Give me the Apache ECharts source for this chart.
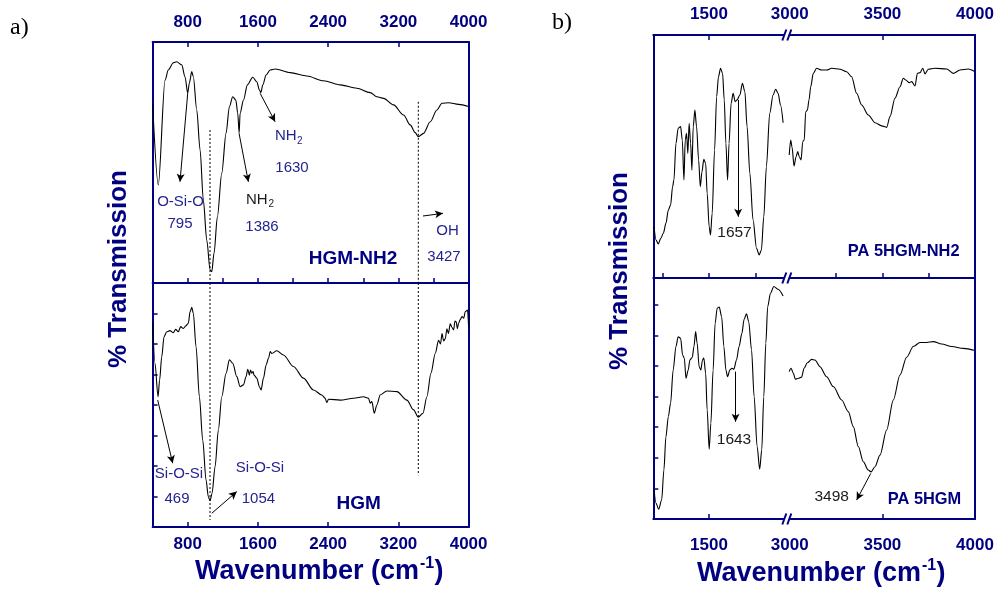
<!DOCTYPE html>
<html>
<head>
<meta charset="utf-8">
<script src="https://cdn.jsdelivr.net/npm/echarts@6/dist/echarts.min.js"></script>
<style>
html, body { margin: 0; padding: 0; background: #fff; }
#chart { width: 998px; height: 590px; }
</style>
</head>
<body>
<div id="chart"></div>
<script>
// FTIR spectra: (a) HGM-NH2 and HGM, (b) PA 5HGM-NH2 and PA 5HGM (broken wavenumber axis)

// ---- panel a: HGM-NH2 (upper) ----
const hgmNh2Wn = [401,465,542,579,636,675,732,769,800,819,846,864,903,941,978,1017,1055,1074,1100,1138,
  1188,1237,1275,1313,1348,1370,1386,1397,1435,1480,1541,1587,1617,1633,1656,1693,1739,1796,1967,2157,
  2347,2537,2727,2879,2955,3031,3145,3259,3335,3392,3427,3487,3563,3639,3697,3772,3886,4000];
const hgmNh2T = [73.9,40.7,84.2,88.4,91.4,91.8,90.5,85.6,78.8,83.0,87.7,85.6,71.8,55.2,34.4,17.8,5.4,4.7,12.4,27.5,
  45.6,62.2,73.2,77.3,75.9,70.5,62.2,70.5,75.9,82.2,85.4,83.5,80.1,79.0,82.2,86.3,88.4,88.8,87.3,85.9,
  83.9,82.2,80.8,79.0,77.3,76.6,73.9,69.7,65.6,62.4,60.7,62.1,66.9,71.8,74.6,74.8,74.1,73.2];

// ---- panel a: HGM (lower) ----
const hgmWn = [401,427,462,480,504,530,561,598,636,663,693,720,750,777,807,827,846,864,895,933,
  971,1009,1035,1055,1077,1112,1149,1188,1237,1275,1313,1359,1397,1435,1465,1484,1503,1515,1530,1545,
  1556,1587,1617,1636,1663,1693,1720,1740,1758,1815,1891,2005,2119,2233,2328,2366,2385,2404,2537,2689,
  2803,2860,2879,2898,2925,2955,2993,3069,3183,3297,3373,3427,3480,3525,3571,3620,3658,3680,3697,3715,
  3734,3753,3770,3791,3810,3829,3845,3859,3872,3886,3905,3925,3945,3962,3988,4000];
const hgmT = [66.8,53.7,42.7,48.2,55.8,62.4,64.0,64.4,63.7,64.8,64.0,65.7,65.1,65.9,66.8,70.6,72.0,70.1,59.1,42.7,
  28.5,15.4,9.9,8.6,11.0,19.8,31.8,42.7,50.4,54.8,53.7,49.3,46.0,46.6,49.3,51.7,49.8,51.5,50.4,51.0,
  49.8,48.8,46.0,44.9,48.8,53.1,55.3,57.5,56.9,57.8,56.4,52.6,48.8,44.9,43.3,42.2,40.8,41.9,41.6,42.2,
  42.7,42.2,40.6,41.1,37.3,40.0,43.3,44.6,44.4,41.6,38.4,36.0,37.3,42.7,50.4,56.9,61.2,60.0,63.4,61.0,
  61.7,65.0,63.5,66.6,65.5,64.6,67.5,67.3,65.0,66.8,68.0,69.0,68.5,70.6,71.1,65.7];

// ---- panel b: PA 5HGM-NH2 (upper), low and high wavenumber segments ----
const paNh2LowWn = [1204,1215,1227,1240,1254,1268,1281,1293,1304,1311,1322,1334,1347,1356,1365,1372,1379,1386,1393,1401,
  1408,1415,1424,1433,1444,1453,1462,1472,1482,1490,1501,1508,1517,1530,1541,1551,1562,1573,1582,1591,
  1600,1608,1619,1630,1641,1651,1666,1680,1693,1705,1720,1737,1756,1770,1782,1795,1809,1827,1845,1859,
  1872,1885,1899];
const paNh2LowT = [21.1,15.6,14.0,16.3,18.4,22.5,28.0,30.0,37.6,40.3,55.4,61.6,62.3,56.8,40.3,56.8,59.5,51.3,63.7,55.4,
  44.4,62.3,69.1,62.3,48.6,37.6,43.7,48.8,47.2,34.9,21.1,17.7,26.6,52.7,74.6,82.8,86.3,84.2,73.3,55.4,
  40.3,55.4,71.9,76.0,72.6,73.3,75.3,80.1,76.7,62.3,43.1,23.9,12.2,9.5,11.5,25.2,45.8,67.8,75.3,77.7,
  76.0,71.2,63.9];
const paNh2HighWn = [2997,3005,3012,3023,3034,3043,3051,3061,3070,3078,3086,3095,3104,3113,3127,3145,3172,3199,3226,3271,
  3307,3334,3361,3388,3424,3460,3496,3523,3541,3568,3595,3613,3626,3645,3658,3676,3689,3703,3718,3730,
  3748,3784,3847,3883,3919,3964,4000];
const paNh2HighT = [50.6,56.8,54.0,46.1,49.9,52.0,49.9,48.6,56.1,56.8,68.4,69.1,73.3,78.7,84.2,86.3,85.6,85.6,86.3,85.9,
  84.9,82.8,76.0,71.2,67.1,63.9,62.6,62.0,66.4,74.0,78.7,82.2,81.5,80.4,80.8,79.0,84.2,84.5,86.3,84.0,
  85.9,86.3,86.0,84.2,85.6,86.0,84.9];

// ---- panel b: PA 5HGM (lower), low and high wavenumber segments ----
const paLowWn = [1204,1215,1229,1245,1257,1268,1281,1293,1307,1322,1334,1347,1358,1367,1376,1388,1397,1410,1419,1428,
  1436,1447,1456,1465,1472,1482,1490,1501,1510,1522,1533,1544,1555,1568,1580,1591,1600,1612,1623,1634,
  1648,1662,1677,1689,1702,1714,1729,1743,1759,1773,1784,1795,1806,1816,1831,1849,1872,1899];
const paLowT = [9.5,5.1,3.2,6.2,16.0,26.9,33.5,37.8,48.7,56.4,59.6,59.1,53.6,52.6,46.0,48.7,52.0,52.9,56.4,61.3,
  57.5,49.8,48.7,52.0,52.6,47.7,35.7,22.8,31.3,48.7,64.0,68.9,69.3,66.2,56.4,48.7,46.5,48.7,49.3,49.0,
  52.0,56.4,60.7,65.3,67.1,64.5,55.3,40.0,23.7,16.3,22.6,40.0,57.5,69.4,73.8,76.0,75.1,72.9];
const paHighWn = [2997,3007,3019,3030,3046,3064,3077,3095,3118,3136,3163,3199,3235,3280,3316,3343,3370,3397,3424,3439,
  3460,3487,3523,3559,3595,3631,3667,3703,3739,3775,3820,3874,3937,4000];
const paHighT = [48.2,49.3,47.7,45.7,46.0,46.4,49.3,51.1,52.2,52.0,49.8,46.5,43.3,38.9,35.1,30.2,23.7,18.7,16.0,15.4,
  17.1,20.9,29.1,38.9,47.1,52.9,56.4,57.7,57.7,58.0,57.2,56.4,55.8,55.1];

// ---- tick positions and labels ----
const aMajorTicks = [800, 1600, 2400, 3200];
const aMinorTicks = [800, 1200, 1600, 2000, 2400, 2800, 3200, 3600];
const aTickLabels = [800, 1600, 2400, 3200, 4000];
const bLowTickLabels = [1500];
const bLowMinorTicks = [1250, 1500, 1750];
const bHighTickLabels = [3000, 3500, 4000];
const bHighMinorTicks = [3250, 3500, 3750];
const yTicks = [10, 20, 30, 40, 50, 60, 70];

const NAVY = '#000080';
const BLUE = '#24248f';
const INK = '#1a1a1a';
const SANS = '"Liberation Sans", Arial, Helvetica, sans-serif';
const SERIF = '"Liberation Serif", "Times New Roman", serif';

// grid boxes: left, top, width, height
const boxes = [
  [152.6, 42, 316, 241],   // 0 a upper
  [152.6, 283, 316, 244],  // 1 a lower
  [653.3, 35, 133.7, 243], // 2 b upper, low segment
  [787, 35, 188, 243],     // 3 b upper, high segment
  [653.3, 278, 133.7, 241],// 4 b lower, low segment
  [787, 278, 188, 241]     // 5 b lower, high segment
];
const BREAK_X = 786.8;

function xAx(gi, position, min, max, o) {
  return {
    type: 'value', gridIndex: gi, position, min, max,
    axisLine: { show: true, onZero: false, lineStyle: { color: NAVY, width: 2 } },
    axisTick: { show: !!o.ticks, inside: true, length: 5, customValues: o.ticks,
      lineStyle: { color: NAVY, width: 1.5 } },
    axisLabel: { show: !!o.labels, customValues: o.labels, margin: o.margin || 8,
      formatter: v => String(v),
      color: NAVY, fontWeight: 'bold', fontSize: 17, fontFamily: SANS,
      showMinLabel: true, showMaxLabel: true },
    splitLine: { show: false }
  };
}
function yAx(gi, position, max, o) {
  return {
    type: 'value', gridIndex: gi, position, min: 0, max,
    axisLine: { show: o.line !== false, onZero: false, lineStyle: { color: NAVY, width: 2 } },
    axisTick: { show: !!o.ticks, inside: true, length: 5, customValues: o.ticks,
      lineStyle: { color: NAVY, width: 1.5 } },
    axisLabel: { show: false },
    splitLine: { show: false }
  };
}

const xAxes = [
  xAx(0, 'top', 400, 4000, { ticks: aMajorTicks, labels: aTickLabels, margin: 11 }),   // 0
  xAx(0, 'bottom', 400, 4000, { ticks: aMinorTicks }),                                 // 1
  xAx(1, 'bottom', 400, 4000, { ticks: aMajorTicks, labels: aTickLabels, margin: 9 }), // 2
  xAx(2, 'top', 1200, 1920, { ticks: [1500], labels: bLowTickLabels, margin: 12 }),    // 3
  xAx(2, 'bottom', 1200, 1920, { ticks: bLowMinorTicks }),                             // 4
  xAx(3, 'top', 2985, 4000, { ticks: [3500], labels: bHighTickLabels, margin: 12 }),   // 5
  xAx(3, 'bottom', 2985, 4000, { ticks: bHighMinorTicks }),                            // 6
  xAx(4, 'bottom', 1200, 1920, { ticks: [1500], labels: bLowTickLabels, margin: 18 }), // 7
  xAx(5, 'bottom', 2985, 4000, { ticks: [3500], labels: bHighTickLabels, margin: 18 }) // 8
];
const yAxes = [
  yAx(0, 'left', 100, {}),                 // 0
  yAx(0, 'right', 100, {}),                // 1
  yAx(1, 'left', 80, { ticks: yTicks }),   // 2
  yAx(1, 'right', 80, {}),                 // 3
  yAx(2, 'left', 100, {}),                 // 4
  yAx(3, 'right', 100, {}),                // 5
  yAx(4, 'left', 78.8, { ticks: yTicks }), // 6
  yAx(5, 'right', 78.8, {})                // 7
];

function arrows(pairs) {
  return {
    silent: true, symbol: ['none', 'arrow'], symbolSize: [6, 8],
    label: { show: false },
    lineStyle: { color: '#000', width: 1, type: 'solid' },
    emphasis: { disabled: true },
    data: pairs.map(p => [{ coord: p[0] }, { coord: p[1] }])
  };
}
function spectrum(name, xi, yi, wn, t, markLine) {
  const s = {
    name, type: 'line', xAxisIndex: xi, yAxisIndex: yi,
    data: wn.map((w, i) => [w, t[i]]),
    symbol: 'none', showSymbol: false, smooth: 0.3, smoothMonotone: 'x',
    lineStyle: { color: '#000', width: 1.1 }, silent: true, z: 3
  };
  if (markLine) s.markLine = markLine;
  return s;
}
function dotted(xi, yi, x, y0, y1) {
  return {
    type: 'line', xAxisIndex: xi, yAxisIndex: yi, data: [[x, y0], [x, y1]],
    symbol: 'none', silent: true, z: 2,
    lineStyle: { color: '#000', width: 1, type: [2, 2] }
  };
}

const series = [
  spectrum('HGM-NH2', 1, 0, hgmNh2Wn, hgmNh2T, arrows([
    [[800, 78.7], [712, 42.0]],
    [[1385, 62.1], [1491, 42.0]],
    [[1625, 78.7], [1796, 66.9]],
    [[3480, 27.8], [3708, 28.9]]
  ])),
  spectrum('HGM', 2, 2, hgmWn, hgmT, arrows([
    [[458, 41.6], [629, 20.9]],
    [[1074, 4.5], [1359, 11.6]]
  ])),
  dotted(1, 0, 1054, 63.5, 0),
  dotted(1, 0, 3427, 75.2, 0),
  dotted(2, 2, 1054, 80, 2.3),
  dotted(2, 2, 3427, 80, 17.0),
  spectrum('PA 5HGM-NH2 low', 4, 4, paNh2LowWn, paNh2LowT, arrows([
    [[1657, 73.3], [1657, 25.2]]
  ])),
  spectrum('PA 5HGM-NH2 high', 6, 5, paNh2HighWn, paNh2HighT),
  spectrum('PA 5HGM low', 7, 6, paLowWn, paLowT, arrows([
    [[1643, 48.2], [1643, 31.8]]
  ])),
  spectrum('PA 5HGM high', 8, 7, paHighWn, paHighT, arrows([
    [[3437, 14.9], [3361, 6.2]]
  ]))
];

function text(x, y, str, o) {
  o = o || {};
  return {
    type: 'text', x, y, z: 100, silent: true,
    rotation: o.rotation || 0,
    style: {
      text: str, fill: o.color || BLUE,
      fontSize: o.size || 15, fontWeight: o.weight || 'normal', fontFamily: o.family || SANS,
      align: o.align || 'center', verticalAlign: o.valign || 'middle',
      textAlign: o.align || 'center', textVerticalAlign: o.valign || 'middle'
    }
  };
}
// "Wavenumber (cm-1)" built from three runs so the exponent can sit raised
function axisTitle(x0, y) {
  return [
    text(x0, y, 'Wavenumber (cm', { color: NAVY, size: 27, weight: 'bold', align: 'left' }),
    text(x0 + 225, y - 8, '-1', { color: NAVY, size: 16, weight: 'bold', align: 'left' }),
    text(x0 + 239.5, y, ')', { color: NAVY, size: 27, weight: 'bold', align: 'left' })
  ];
}
// "//" marks where the wavenumber axis of panel b is broken
function breakMark(y) {
  const lineStyle = { stroke: NAVY, lineWidth: 2 };
  return [
    { type: 'rect', z: 99, silent: true, shape: { x: BREAK_X - 2.5, y: y - 2, width: 5, height: 4 },
      style: { fill: '#fff' } },
    { type: 'line', z: 100, silent: true,
      shape: { x1: BREAK_X - 4.5, y1: y + 5.5, x2: BREAK_X - 0.5, y2: y - 5.5 }, style: lineStyle },
    { type: 'line', z: 100, silent: true,
      shape: { x1: BREAK_X + 0.5, y1: y + 5.5, x2: BREAK_X + 4.5, y2: y - 5.5 }, style: lineStyle }
  ];
}

const graphics = [].concat(
  text(10, 28, 'a)', { color: '#000', size: 24, family: SERIF, align: 'left' }),
  text(552, 23, 'b)', { color: '#000', size: 24, family: SERIF, align: 'left' }),
  text(119, 269, '% Transmission', { color: NAVY, size: 26, weight: 'bold', rotation: Math.PI / 2 }),
  text(620, 271, '% Transmission', { color: NAVY, size: 26, weight: 'bold', rotation: Math.PI / 2 }),
  axisTitle(195, 572),
  axisTitle(697, 574),
  // panel a, upper
  text(180.5, 201.5, 'O-Si-O'),
  text(180, 224, '795'),
  text(246, 200, 'NH', { color: INK, align: 'left' }),
  text(268.5, 204.5, '2', { color: INK, size: 10, align: 'left' }),
  text(262, 226.7, '1386'),
  text(275, 135.5, 'NH', { align: 'left' }),
  text(297, 141, '2', { size: 10, align: 'left' }),
  text(292, 167.5, '1630'),
  text(447.5, 231, 'OH'),
  text(444, 256.7, '3427'),
  text(353, 259, 'HGM-NH2', { color: NAVY, size: 19, weight: 'bold' }),
  // panel a, lower
  text(179, 474, 'Si-O-Si'),
  text(177, 499, '469'),
  text(260, 468, 'Si-O-Si'),
  text(258.4, 499, '1054'),
  text(358.7, 504, 'HGM', { color: NAVY, size: 19, weight: 'bold' }),
  // panel b
  text(734.5, 233, '1657', { color: INK, size: 15.5 }),
  text(903.7, 251.7, 'PA 5HGM-NH2', { color: NAVY, size: 16.4, weight: 'bold' }),
  text(734, 439.3, '1643', { color: INK, size: 15.5 }),
  text(831.7, 496.7, '3498', { color: INK, size: 15.5 }),
  text(924.5, 499.3, 'PA 5HGM', { color: NAVY, size: 16.4, weight: 'bold' }),
  breakMark(35),
  breakMark(278),
  breakMark(519)
);

const chart = echarts.init(document.getElementById('chart'), null, { renderer: 'canvas' });
chart.setOption({
  animation: false,
  backgroundColor: '#fff',
  grid: boxes.map(b => ({ left: b[0], top: b[1], width: b[2], height: b[3], containLabel: false, show: false })),
  xAxis: xAxes,
  yAxis: yAxes,
  series,
  graphic: { elements: graphics }
});
</script>
</body>
</html>
